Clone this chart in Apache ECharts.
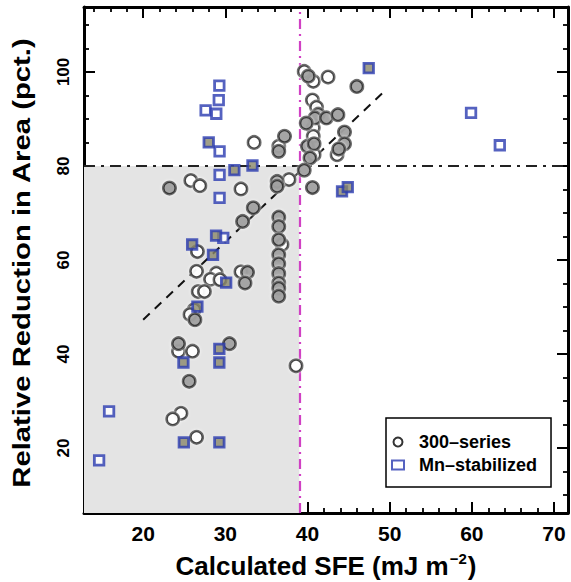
<!DOCTYPE html>
<html><head><meta charset="utf-8">
<script src="https://cdn.jsdelivr.net/npm/echarts@6/dist/echarts.min.js"></script>
<style>html,body{margin:0;padding:0;background:#fff}#c{width:571px;height:582px}</style>
</head><body><div id="c"></div>
<script>
// Axis ranges and tick labels
const X_MIN = 12.8, X_MAX = 71.7, Y_MIN = 6.2, Y_MAX = 113.8;
const X_TICKS = [20, 30, 40, 50, 60, 70];
const Y_TICKS = [20, 40, 60, 80, 100];
// Reference regions / lines
const SFE_LIMIT = 39;
const RA_LIMIT = 80;
const FIT_LINE = [[20, 47.3], [49.3, 95.8]];

// 300-series (open circles)
const open300 = [
  [39.6,100.1],[40.7,98.0],[42.5,98.9],[40.6,94.0],[41.1,92.5],[40.7,88.1],[40.7,86.3],
  [43.6,82.4],[40.8,82.4],[37.75,77.1],[33.5,85.0],[36.5,84.2],[25.8,76.9],[26.9,75.8],
  [31.9,75.1],[36.9,63.3],[31.9,57.5],[26.6,61.8],[26.5,57.6],[28.9,57.2],[28.2,55.9],
  [29.35,55.8],[26.7,53.3],[27.45,53.3],[26.2,49.4],[25.7,48.4],[24.3,40.6],[26.0,40.6],
  [24.6,27.4],[23.6,26.2],[26.5,22.3],[38.6,37.5]
];
// 300-series (filled circles)
const filled300 = [
  [40.1,99.1],[46.0,96.9],[41.3,91.0],[40.9,90.2],[42.3,90.2],[43.7,90.9],[39.85,89.1],
  [44.5,87.2],[44.5,84.7],[43.8,83.6],[40.0,84.2],[40.8,84.7],[40.3,81.7],[39.6,79.1],
  [40.6,75.4],[37.2,86.3],[36.5,83.1],[23.2,75.3],[36.3,76.7],[36.3,75.7],[33.4,71.1],
  [32.1,68.2],[36.5,69.1],[36.5,67.1],[36.5,64.3],[36.5,61.1],[36.5,59.2],[36.5,57.1],
  [36.5,55.1],[36.5,54.0],[36.5,52.3],[32.7,57.4],[32.4,55.1],[26.3,47.3],[24.3,42.2],
  [30.5,42.2],[25.6,34.2]
];
// Mn-stabilized (open squares)
const openMn = [
  [29.27,97.1],[29.2,94.0],[27.6,91.8],[28.9,91.1],[29.3,83.1],[29.3,78.1],[29.3,73.2],
  [29.75,64.7],[15.85,27.8],[14.64,17.4],[59.9,91.3],[63.4,84.4]
];
// Mn-stabilized (filled squares)
const filledMn = [
  [27.98,85.0],[31.1,79.1],[33.3,80.1],[47.45,100.8],[44.2,74.6],[44.9,75.5],[28.87,65.2],
  [25.96,63.3],[28.5,61.1],[30.1,55.2],[26.6,50.1],[24.9,38.2],[29.27,41.1],[29.27,38.2],
  [24.95,21.2],[29.27,21.2]
];

const FONT = '"Liberation Sans", Arial, Helvetica, sans-serif';
const BLUE = '#2a3bb0';

function isTick(v, list) {
  const r = Math.round(v);
  return Math.abs(v - r) < 1e-6 && list.indexOf(r) >= 0;
}
function xAxisCfg(pos, labels) {
  return {
    type: 'value', gridIndex: 0, position: pos, min: X_MIN, max: X_MAX,
    minInterval: 10, maxInterval: 10, splitNumber: 6,
    axisLine: { show: true, onZero: false, lineStyle: { color: '#000', width: 3 } },
    axisTick: { show: true, inside: true, length: 11, lineStyle: { color: '#000', width: 2 } },
    minorTick: { show: true, splitNumber: 5, length: 5, lineStyle: { color: '#000', width: 1.8 } },
    splitLine: { show: false }, minorSplitLine: { show: false },
    axisLabel: {
      show: labels, margin: 10, fontSize: 21, fontWeight: 'bold', color: '#000', fontFamily: FONT,
      formatter: v => isTick(v, X_TICKS) ? String(Math.round(v)) : ''
    }
  };
}
function yAxisCfg(pos, labels) {
  return {
    type: 'value', gridIndex: 0, position: pos, min: Y_MIN, max: Y_MAX,
    minInterval: 20, maxInterval: 20, splitNumber: 5,
    axisLine: { show: true, onZero: false, lineStyle: { color: '#000', width: 3 } },
    axisTick: { show: true, inside: true, length: 11, lineStyle: { color: '#000', width: 2 } },
    minorTick: { show: true, splitNumber: 4, length: 5, lineStyle: { color: '#000', width: 1.8 } },
    splitLine: { show: false }, minorSplitLine: { show: false },
    axisLabel: {
      show: labels, margin: 12, rotate: 90, fontSize: 17, fontWeight: 'bold', color: '#000', fontFamily: FONT,
      formatter: v => isTick(v, Y_TICKS) ? String(Math.round(v)) : ''
    }
  };
}

const halo = { shadowBlur: 3, shadowColor: 'rgba(255,255,255,0.95)' };

const chart = echarts.init(document.getElementById('c'), null, { renderer: 'svg' });
chart.setOption({
  animation: false,
  backgroundColor: '#fff',
  grid: { left: 84, top: 7, width: 485, height: 506, containLabel: false },
  xAxis: [xAxisCfg('bottom', true), xAxisCfg('top', false)],
  yAxis: [yAxisCfg('left', true), yAxisCfg('right', false)],
  legend: {
    data: ['300–series', 'Mn–stabilized'],
    orient: 'vertical', left: 386, top: 418,
    padding: [15, 14, 13, 5], itemGap: 5,
    itemWidth: 12, itemHeight: 9,
    borderColor: '#000', borderWidth: 1.5, backgroundColor: '#fff',
    textStyle: { fontSize: 18, fontWeight: 'bold', color: '#000', fontFamily: FONT, lineHeight: 18, padding: [0, 0, 0, 10] },
    selectedMode: false
  },
  graphic: [
    {
      type: 'text', x: 326, y: 566, z: 100,
      style: {
        text: '{a|Calculated SFE (mJ m}{s|−2}{a|)}',
        rich: {
          a: { fontSize: 26, fontWeight: 'bold', fontFamily: FONT, fill: '#000', lineHeight: 30 },
          s: { fontSize: 15, fontWeight: 'bold', fontFamily: FONT, fill: '#000', verticalAlign: 'top', lineHeight: 30, padding: [0, 1, 12, 1] }
        },
        textAlign: 'center', textVerticalAlign: 'middle'
      }
    },
    {
      type: 'text', x: 22, y: 263, rotation: Math.PI / 2, scaleX: 1.22, z: 100,
      style: {
        text: 'Relative Reduction in Area (pct.)',
        fontSize: 24, fontWeight: 'bold', fontFamily: FONT, fill: '#000',
        textAlign: 'center', textVerticalAlign: 'middle'
      }
    }
  ],
  series: [
    {
      type: 'line', name: 'fit', data: FIT_LINE, symbol: 'none', z: 3, silent: true,
      lineStyle: { color: '#111', width: 2, type: [9, 7] },
      markArea: {
        silent: true, z: 1,
        itemStyle: { color: '#e4e4e4' },
        data: [[{ xAxis: X_MIN, yAxis: Y_MIN }, { xAxis: SFE_LIMIT, yAxis: RA_LIMIT }]]
      },
      markLine: {
        silent: true, symbol: 'none', z: 2, label: { show: false },
        data: [
          { xAxis: SFE_LIMIT, lineStyle: { color: '#d040c4', width: 2.2, type: [10, 5, 2, 5] } },
          { yAxis: RA_LIMIT, lineStyle: { color: '#222', width: 2, type: [11, 6, 3, 6] } }
        ]
      }
    },
    {
      type: 'scatter', name: '300–series', data: open300, symbol: 'circle', symbolSize: 12.5, z: 10,
      itemStyle: Object.assign({ color: '#fff', borderColor: '#000', borderWidth: 2.6 }, halo)
    },
    {
      type: 'scatter', name: '300–series', data: filled300, symbol: 'circle', symbolSize: 12.5, z: 10,
      itemStyle: Object.assign({ color: '#858585', borderColor: '#000', borderWidth: 2.6 }, halo)
    },
    {
      type: 'scatter', name: 'Mn–stabilized', data: openMn, symbol: 'rect', symbolSize: 9.5, z: 11,
      itemStyle: { color: '#fff', borderColor: BLUE, borderWidth: 2.8 }
    },
    {
      type: 'scatter', name: 'Mn–stabilized', data: filledMn, symbol: 'rect', symbolSize: 9.5, z: 11,
      itemStyle: { color: '#8a876a', borderColor: BLUE, borderWidth: 2.8 }
    }
  ]
});
</script>
</body></html>
